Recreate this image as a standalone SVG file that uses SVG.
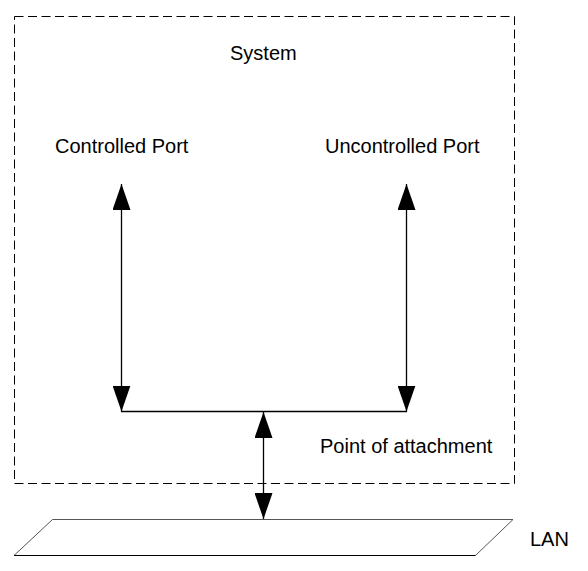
<svg xmlns="http://www.w3.org/2000/svg" width="588" height="571" viewBox="0 0 588 571">
<style>
text{font-family:"Liberation Sans",Arial,sans-serif;font-size:20px;fill:#000}
.ln{stroke:#000;stroke-width:1.3;fill:none}
</style>
<defs>
<marker id="ah" viewBox="0 0 26 18" refX="26" refY="9" markerWidth="26" markerHeight="18" markerUnits="userSpaceOnUse" orient="auto-start-reverse">
<path d="M0,0 L26,9 L0,18 Z" fill="#000"/>
</marker>
</defs>
<rect width="588" height="571" fill="#fff"/>
<g id="system">
<rect x="14.5" y="16.5" width="500" height="467" fill="none" stroke="#000" stroke-width="1" stroke-dasharray="9,4.5"/>
<text x="230" y="60">System</text>
</g>
<g id="controlled-port"><text x="55" y="153">Controlled Port</text></g>
<g id="uncontrolled-port"><text x="325" y="153">Uncontrolled Port</text></g>
<g id="point-of-attachment"><text x="320" y="453">Point of attachment</text></g>
<g id="lan">
<polygon points="52.5,519.5 513,519.5 475.5,555.5 14,555.5" fill="#fff" stroke="#555" stroke-width="1"/>
<line x1="14" y1="555.5" x2="475.5" y2="555.5" stroke="#000" stroke-width="1"/>
<text x="530" y="546">LAN</text>
</g>
<g id="connectors">
<line class="ln" x1="121.5" y1="184" x2="121.5" y2="411.5" marker-start="url(#ah)" marker-end="url(#ah)"/>
<line class="ln" x1="406.5" y1="184" x2="406.5" y2="411.5" marker-start="url(#ah)" marker-end="url(#ah)"/>
<line class="ln" x1="121" y1="411.5" x2="407" y2="411.5"/>
<line class="ln" x1="263.5" y1="412" x2="263.5" y2="519" marker-start="url(#ah)" marker-end="url(#ah)"/>
</g>
</svg>
